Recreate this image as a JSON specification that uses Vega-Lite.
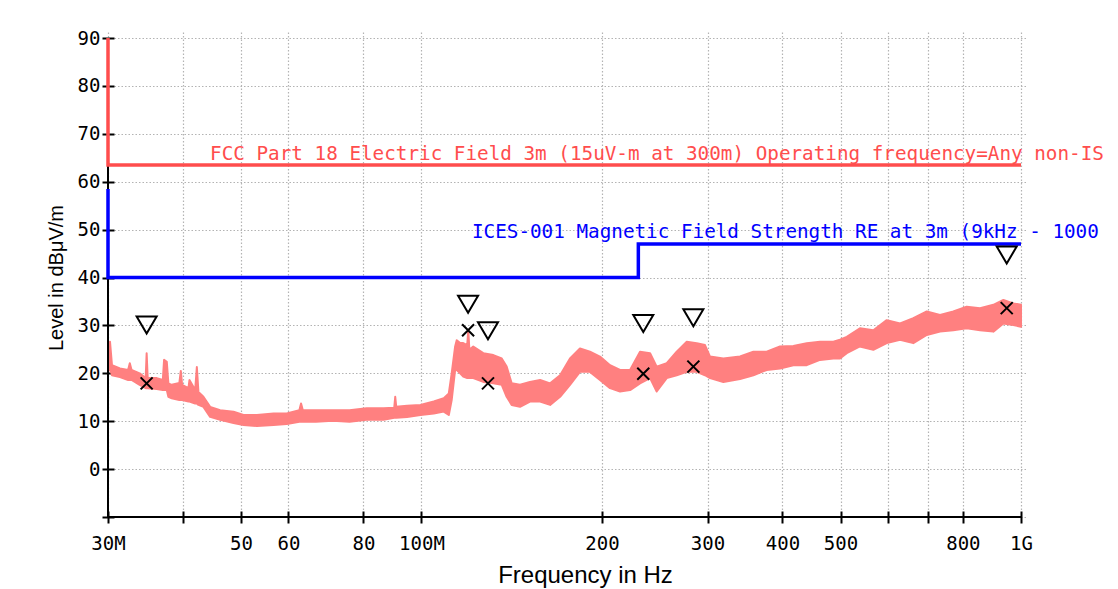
{
  "$schema": "https://vega.github.io/schema/vega-lite/v6.json",
  "width": 913,
  "height": 479,
  "autosize": {"type": "none"},
  "padding": {"left": 108, "top": 38, "right": 97, "bottom": 72},
  "background": "white",
  "config": {
    "view": {"stroke": null},
    "axis": {
      "offset": -6,
      "tickSize": 12,
      "tickWidth": 2,
      "tickColor": "black",
      "domain": false,
      "grid": true,
      "gridDash": [1.5, 2],
      "gridColor": "#b3b3b3",
      "gridWidth": 1.2,
      "labelFont": "DejaVu Sans Mono",
      "labelFontSize": 19,
      "labelColor": "black",
      "labelOverlap": false,
      "labelFlush": false,
      "titleFont": "Liberation Sans",
      "titleFontWeight": "normal",
      "titleColor": "black"
    }
  },
  "datasets": {
    "trace": [
      {"f": 30.0, "lo": 20.3, "hi": 22.4},
      {"f": 30.23, "lo": 21.0, "hi": 26.6},
      {"f": 30.46, "lo": 19.6, "hi": 21.7},
      {"f": 31.41, "lo": 19.2, "hi": 21.0},
      {"f": 32.41, "lo": 18.6, "hi": 20.7},
      {"f": 32.62, "lo": 18.6, "hi": 22.1},
      {"f": 32.84, "lo": 18.6, "hi": 20.7},
      {"f": 33.88, "lo": 17.6, "hi": 20.0},
      {"f": 34.67, "lo": 16.9, "hi": 19.0},
      {"f": 34.80, "lo": 16.9, "hi": 24.2},
      {"f": 34.94, "lo": 16.9, "hi": 19.0},
      {"f": 36.18, "lo": 16.7, "hi": 19.0},
      {"f": 37.03, "lo": 16.5, "hi": 18.6},
      {"f": 37.21, "lo": 16.5, "hi": 22.8},
      {"f": 37.60, "lo": 16.5, "hi": 22.4},
      {"f": 37.83, "lo": 15.1, "hi": 17.9},
      {"f": 38.32, "lo": 14.8, "hi": 17.6},
      {"f": 39.46, "lo": 14.4, "hi": 18.0},
      {"f": 39.68, "lo": 14.4, "hi": 20.5},
      {"f": 39.88, "lo": 14.4, "hi": 17.6},
      {"f": 40.86, "lo": 14.1, "hi": 16.9},
      {"f": 41.02, "lo": 14.1, "hi": 18.6},
      {"f": 41.93, "lo": 13.7, "hi": 16.5},
      {"f": 42.20, "lo": 13.7, "hi": 21.3},
      {"f": 42.46, "lo": 13.4, "hi": 16.1},
      {"f": 43.28, "lo": 13.0, "hi": 15.1},
      {"f": 44.41, "lo": 10.9, "hi": 13.0},
      {"f": 46.15, "lo": 10.3, "hi": 12.3},
      {"f": 48.58, "lo": 9.6, "hi": 12.0},
      {"f": 50.48, "lo": 9.2, "hi": 11.3},
      {"f": 53.14, "lo": 9.0, "hi": 11.3},
      {"f": 56.66, "lo": 9.2, "hi": 11.6},
      {"f": 59.60, "lo": 9.4, "hi": 11.6},
      {"f": 62.56, "lo": 9.9, "hi": 12.3},
      {"f": 62.97, "lo": 9.9, "hi": 13.7},
      {"f": 63.40, "lo": 9.9, "hi": 12.3},
      {"f": 66.68, "lo": 9.9, "hi": 12.3},
      {"f": 71.09, "lo": 10.1, "hi": 12.3},
      {"f": 75.86, "lo": 9.9, "hi": 12.3},
      {"f": 81.00, "lo": 10.3, "hi": 12.7},
      {"f": 86.44, "lo": 10.3, "hi": 12.7},
      {"f": 90.06, "lo": 10.7, "hi": 12.8},
      {"f": 90.41, "lo": 10.7, "hi": 15.1},
      {"f": 90.76, "lo": 10.7, "hi": 13.0},
      {"f": 94.63, "lo": 10.9, "hi": 13.2},
      {"f": 99.60, "lo": 11.3, "hi": 13.4},
      {"f": 104.84, "lo": 11.6, "hi": 14.1},
      {"f": 108.94, "lo": 12.0, "hi": 14.8},
      {"f": 111.07, "lo": 11.3, "hi": 15.8},
      {"f": 112.3, "lo": 14.4, "hi": 20.0},
      {"f": 113.8, "lo": 20.7, "hi": 25.6},
      {"f": 114.5, "lo": 20.7, "hi": 26.9},
      {"f": 116.0, "lo": 20.0, "hi": 26.3},
      {"f": 117.4, "lo": 19.3, "hi": 26.3},
      {"f": 119.2, "lo": 19.0, "hi": 25.9},
      {"f": 119.7, "lo": 19.0, "hi": 29.0},
      {"f": 120.2, "lo": 19.0, "hi": 24.9},
      {"f": 122.0, "lo": 19.0, "hi": 25.6},
      {"f": 126.8, "lo": 18.2, "hi": 24.2},
      {"f": 131.8, "lo": 17.9, "hi": 23.8},
      {"f": 136.1, "lo": 17.6, "hi": 23.1},
      {"f": 138.7, "lo": 15.1, "hi": 21.4},
      {"f": 141.4, "lo": 13.4, "hi": 17.9},
      {"f": 146.0, "lo": 13.0, "hi": 17.6},
      {"f": 151.7, "lo": 14.1, "hi": 18.2},
      {"f": 157.7, "lo": 14.1, "hi": 18.6},
      {"f": 163.9, "lo": 13.4, "hi": 17.9},
      {"f": 170.3, "lo": 15.1, "hi": 19.6},
      {"f": 176.9, "lo": 17.6, "hi": 23.1},
      {"f": 183.8, "lo": 20.3, "hi": 25.2},
      {"f": 191.0, "lo": 20.3, "hi": 24.5},
      {"f": 198.5, "lo": 18.6, "hi": 23.5},
      {"f": 206.3, "lo": 16.9, "hi": 21.7},
      {"f": 214.4, "lo": 16.2, "hi": 20.7},
      {"f": 222.8, "lo": 16.5, "hi": 20.7},
      {"f": 231.5, "lo": 17.9, "hi": 24.5},
      {"f": 240.6, "lo": 19.0, "hi": 24.2},
      {"f": 246.8, "lo": 16.2, "hi": 21.4},
      {"f": 256.5, "lo": 19.0, "hi": 22.1},
      {"f": 266.5, "lo": 19.6, "hi": 24.5},
      {"f": 277.0, "lo": 20.3, "hi": 26.6},
      {"f": 287.8, "lo": 20.3, "hi": 26.3},
      {"f": 297.1, "lo": 19.6, "hi": 25.9},
      {"f": 302.9, "lo": 19.0, "hi": 23.5},
      {"f": 318.8, "lo": 18.2, "hi": 23.1},
      {"f": 339.9, "lo": 18.8, "hi": 23.5},
      {"f": 357.8, "lo": 19.6, "hi": 24.5},
      {"f": 376.5, "lo": 20.7, "hi": 24.5},
      {"f": 396.3, "lo": 21.0, "hi": 25.6},
      {"f": 417.1, "lo": 21.7, "hi": 25.7},
      {"f": 439.1, "lo": 21.7, "hi": 26.3},
      {"f": 462.1, "lo": 22.8, "hi": 26.6},
      {"f": 486.4, "lo": 23.1, "hi": 26.6},
      {"f": 498.9, "lo": 23.1, "hi": 27.0},
      {"f": 512.1, "lo": 24.2, "hi": 27.6},
      {"f": 538.7, "lo": 25.6, "hi": 29.4},
      {"f": 567.1, "lo": 24.9, "hi": 29.0},
      {"f": 597.1, "lo": 26.3, "hi": 31.1},
      {"f": 628.5, "lo": 27.0, "hi": 30.4},
      {"f": 661.3, "lo": 26.3, "hi": 31.5},
      {"f": 696.3, "lo": 28.0, "hi": 32.9},
      {"f": 732.7, "lo": 28.7, "hi": 32.2},
      {"f": 771.1, "lo": 29.0, "hi": 32.9},
      {"f": 811.7, "lo": 29.4, "hi": 33.9},
      {"f": 854.5, "lo": 29.0, "hi": 33.6},
      {"f": 899.3, "lo": 28.7, "hi": 34.3},
      {"f": 934.6, "lo": 30.4, "hi": 35.3},
      {"f": 970.8, "lo": 30.1, "hi": 34.6},
      {"f": 1000.0, "lo": 29.7, "hi": 34.3}
    ],
    "fcc": [
      {"i": 0, "f": 30, "v": 90},
      {"i": 1, "f": 30, "v": 63.5},
      {"i": 2, "f": 1000, "v": 63.5}
    ],
    "ices": [
      {"i": 0, "f": 30, "v": 58.5},
      {"i": 1, "f": 30, "v": 40},
      {"i": 2, "f": 230, "v": 40},
      {"i": 3, "f": 230, "v": 47},
      {"i": 4, "f": 1000, "v": 47}
    ],
    "peak": [
      {"f": 34.8, "v": 30.1},
      {"f": 119.6, "v": 34.4},
      {"f": 129.1, "v": 28.9},
      {"f": 234.4, "v": 30.4},
      {"f": 284.1, "v": 31.6},
      {"f": 946.6, "v": 44.7}
    ],
    "qp": [
      {"f": 34.8, "v": 17.9},
      {"f": 119.6, "v": 29.0},
      {"f": 129.1, "v": 17.9},
      {"f": 234.4, "v": 19.9},
      {"f": 284.1, "v": 21.4},
      {"f": 946.6, "v": 33.6}
    ],
    "fccLabel": [
      {"f": 44.4, "v": 64.5, "label": "FCC Part 18 Electric Field 3m (15uV-m at 300m) Operating frequency=Any non-IS"}
    ],
    "icesLabel": [
      {"f": 121.4, "v": 48.2, "label": "ICES-001 Magnetic Field Strength RE at 3m (9kHz - 1000"}
    ]
  },
  "layer": [
    {
      "data": {"name": "trace"},
      "mark": {"type": "area", "color": "#FF8080", "stroke": "#FF8080", "strokeWidth": 2, "strokeJoin": "round", "opacity": 1},
      "encoding": {
        "x": {
          "field": "f", "type": "quantitative",
          "scale": {"type": "log", "domain": [30, 1000], "nice": false},
          "axis": {
            "title": "Frequency in Hz",
            "values": [30, 40, 50, 60, 80, 100, 200, 300, 400, 500, 600, 700, 800, 1000],
            "labelExpr": "datum.value == 30 ? '30M' : datum.value == 100 ? '100M' : datum.value == 1000 ? '1G' : (datum.value == 40 || datum.value == 600 || datum.value == 700) ? '' : datum.value",
            "labelPadding": 11,
            "titleFontSize": 24,
            "titleX": 477,
            "titleY": 71,
            "titleAlign": "center",
            "titleBaseline": "alphabetic",
            "titleAnchor": null
          }
        },
        "y": {
          "field": "lo", "type": "quantitative",
          "scale": {"domain": [-10, 90], "nice": false, "zero": false},
          "axis": {
            "title": "Level in dBμV/m",
            "values": [-10, -5, 0, 5, 10, 15, 20, 25, 30, 35, 40, 45, 50, 55, 60, 65, 70, 75, 80, 85, 90],
            "labelExpr": "(datum.value >= 0 && datum.value % 10 == 0) ? datum.value : ''",
            "labelPadding": 2,
            "titleFontSize": 20,
            "titleX": -52,
            "titleY": 239.5,
            "titleAlign": "center",
            "titleBaseline": "alphabetic",
            "titleAngle": 270
          }
        },
        "y2": {"field": "hi"}
      }
    },
    {
      "data": {"values": [{}]},
      "mark": {"type": "rule", "color": "black", "strokeWidth": 2},
      "encoding": {"x": {"datum": 30, "type": "quantitative"}}
    },
    {
      "data": {"values": [{}]},
      "mark": {"type": "rule", "color": "black", "strokeWidth": 2},
      "encoding": {"y": {"datum": -10, "type": "quantitative"}}
    },
    {
      "data": {"name": "fcc"},
      "mark": {"type": "line", "color": "#FF4D4D", "strokeWidth": 3.5},
      "encoding": {
        "x": {"field": "f", "type": "quantitative"},
        "y": {"field": "v", "type": "quantitative"},
        "order": {"field": "i"}
      }
    },
    {
      "data": {"name": "ices"},
      "mark": {"type": "line", "color": "#0000FF", "strokeWidth": 3.5},
      "encoding": {
        "x": {"field": "f", "type": "quantitative"},
        "y": {"field": "v", "type": "quantitative"},
        "order": {"field": "i"}
      }
    },
    {
      "data": {"name": "peak"},
      "mark": {"type": "point", "shape": "M-1,-0.85L1,-0.85L0,0.85Z", "size": 400, "filled": false, "stroke": "black", "strokeWidth": 2, "opacity": 1},
      "encoding": {
        "x": {"field": "f", "type": "quantitative"},
        "y": {"field": "v", "type": "quantitative"}
      }
    },
    {
      "data": {"name": "qp"},
      "mark": {"type": "point", "shape": "M-1,-1L1,1M-1,1L1,-1", "size": 144, "filled": false, "stroke": "black", "strokeWidth": 2, "opacity": 1},
      "encoding": {
        "x": {"field": "f", "type": "quantitative"},
        "y": {"field": "v", "type": "quantitative"}
      }
    },
    {
      "data": {"name": "fccLabel"},
      "mark": {"type": "text", "font": "DejaVu Sans Mono", "fontSize": 19.3, "align": "left", "baseline": "alphabetic", "color": "#FF4D4D"},
      "encoding": {
        "x": {"field": "f", "type": "quantitative"},
        "y": {"field": "v", "type": "quantitative"},
        "text": {"field": "label"}
      }
    },
    {
      "data": {"name": "icesLabel"},
      "mark": {"type": "text", "font": "DejaVu Sans Mono", "fontSize": 19.3, "align": "left", "baseline": "alphabetic", "color": "#0000FF"},
      "encoding": {
        "x": {"field": "f", "type": "quantitative"},
        "y": {"field": "v", "type": "quantitative"},
        "text": {"field": "label"}
      }
    }
  ]
}
